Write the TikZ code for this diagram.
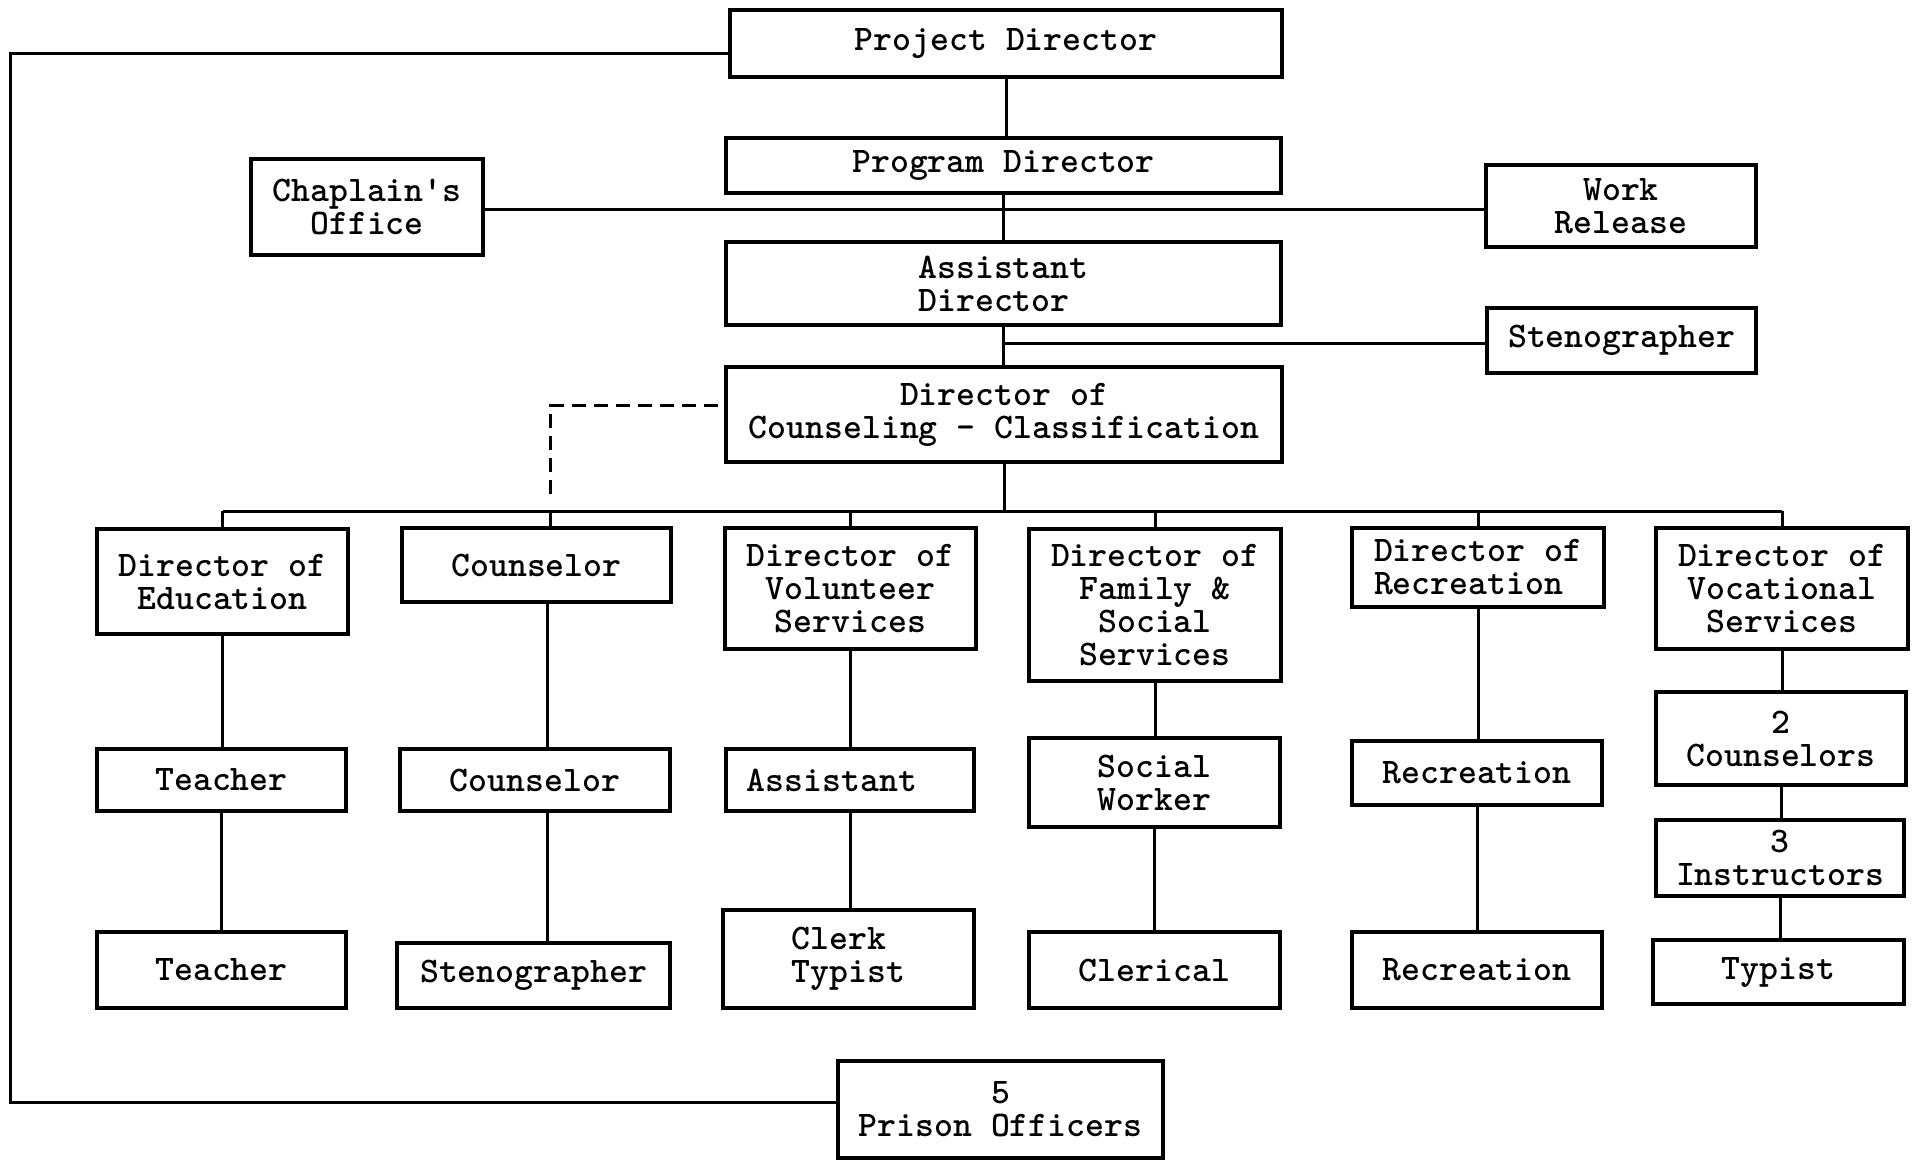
\documentclass[tikz,border=0pt]{standalone}
\usetikzlibrary{calc}
\begin{document}
\begin{tikzpicture}[x=1pt,y=-1pt,
  box/.style={draw, line width=3.5pt, inner sep=0pt, align=center,
    font=\ttfamily\bfseries\fontsize{36}{33}\selectfont},
  conn/.style={line width=3pt},
  dashconn/.style={line width=3pt, dash pattern=on 14pt off 8pt}]
\useasboundingbox[fill=white] (0,0) rectangle (1916,1160);
\newcommand\bx[7][]{\node[box,#1,minimum width={#5-#3},minimum height={#6-#4}] (#2) at ({(#3+#5)/2},{(#4+#6)/2}) {#7};}
% top chain
\bx{pd}{730}{10}{1282}{77}{Project Director}
\bx{prog}{726}{138}{1281}{193}{Program Director}
\bx{chap}{251}{159}{483}{255}{Chaplain's\\Office}
\bx{wr}{1486}{165}{1756}{247}{Work\\Release}
\bx[align=left]{ad}{726}{242}{1281}{325}{Assistant\\Director}
\bx{steno}{1487}{308}{1756}{373}{Stenographer}
\bx{dcc}{726}{367}{1282}{462}{Director of\\Counseling - Classification}
% row 1
\bx{ded}{97}{529}{348}{634}{Director of\\Education}
\bx{cou1}{402}{528}{671}{602}{Counselor}
\bx{dvol}{725}{528}{976}{649}{Director of\\Volunteer\\Services}
\bx{dfam}{1029}{529}{1281}{681}{Director of\\Family \&\\Social\\Services}
\bx[align=left]{drec}{1352}{528}{1604}{607}{Director of\\Recreation}
\bx{dvoc}{1656}{528}{1908}{649}{Director of\\Vocational\\Services}
% row 2
\bx{tea1}{97}{749}{346}{811}{Teacher}
\bx{cou2}{400}{749}{670}{811}{Counselor}
\bx{asst}{726}{749}{974}{811}{Assistant\hspace*{36pt}}
\bx{sw}{1029}{738}{1280}{827}{Social\\Worker}
\bx{rec1}{1352}{741}{1602}{805}{Recreation}
\bx{cns}{1656}{692}{1906}{785}{2\\Counselors}
\bx{ins}{1656}{820}{1904}{896}{3\\Instructors}
% row 3
\bx{tea2}{97}{932}{346}{1008}{Teacher}
\bx{sten2}{397}{943}{670}{1008}{Stenographer}
\bx[align=left]{clk}{723}{910}{974}{1008}{Clerk\\Typist}
\bx{cler}{1029}{932}{1280}{1008}{Clerical}
\bx{rec2}{1352}{932}{1602}{1008}{Recreation}
\bx{typ}{1653}{940}{1904}{1004}{Typist}
\bx{po}{838}{1061}{1163}{1158}{5\\Prison Officers}
% coordinates
\coordinate (busy) at (0,511);
\coordinate (lx) at (10,0);
\coordinate (cc) at ([xshift=14pt]cou1.north);
\coordinate (cc2) at ([xshift=11pt]cou1.south);
% spine
\draw[conn] (pd.south) -- (pd.south |- prog.north);
\draw[conn] (prog.south) -- (prog.south |- ad.north);
\draw[conn] (ad.south) -- (ad.south |- dcc.north);
\draw[conn] ([yshift=-2pt]chap.east) -- ([yshift=-2pt]chap.east -| wr.west);
\draw[conn] ([yshift=-3pt]steno.west) -- ([yshift=-3pt]steno.west -| ad.south);
\draw[conn] (dcc.south) -- (dcc.south |- busy);
% bus
\draw[conn] (ded.north |- busy) -- (dvoc.north |- busy);
\draw[conn] (ded.north) -- (ded.north |- busy);
\draw[conn] (cc) -- (cc |- busy);
\draw[conn] (dvol.north) -- (dvol.north |- busy);
\draw[conn] (dfam.north) -- (dfam.north |- busy);
\draw[conn] (drec.north) -- (drec.north |- busy);
\draw[conn] (dvoc.north) -- (dvoc.north |- busy);
% columns
\draw[conn] (ded.south) -- (ded.south |- tea1.north);
\draw[conn] (tea1.south) -- (tea1.south |- tea2.north);
\draw[conn] (cc2) -- (cc2 |- cou2.north);
\draw[conn] (cc2 |- cou2.south) -- (cc2 |- sten2.north);
\draw[conn] (dvol.south) -- (dvol.south |- asst.north);
\draw[conn] (asst.south) -- (asst.south |- clk.north);
\draw[conn] (dfam.south) -- (dfam.south |- sw.north);
\draw[conn] (sw.south) -- (sw.south |- cler.north);
\draw[conn] (drec.south) -- (drec.south |- rec1.north);
\draw[conn] (rec1.south) -- (rec1.south |- rec2.north);
\draw[conn] (dvoc.south) -- (dvoc.south |- cns.north);
\draw[conn] (cns.south) -- (cns.south |- ins.north);
\draw[conn] (ins.south) -- (ins.south |- typ.north);
% dashed link
\draw[dashconn] ([xshift=-6pt,yshift=9pt]dcc.west) -| ([yshift=10pt]cc |- busy);
% left loop
\draw[conn] ([yshift=-10pt]pd.west) -- ([yshift=-10pt]pd.west -| lx) |- ([yshift=7pt]po.west);
\end{tikzpicture}
\end{document}
